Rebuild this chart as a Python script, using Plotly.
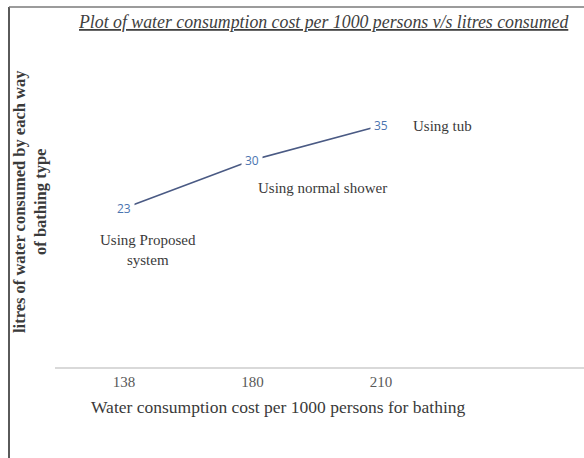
import plotly.graph_objects as go

# Cost per 1000 persons (category labels) and litres consumed per bathing type
cost_labels = ["138", "180", "210"]
litres = [23, 30, 35]
bath_types = ["Using Proposed<br>system", "Using normal shower", "Using tub"]

positions = list(range(len(cost_labels)))

W, H = 584, 458
L, R, T, B = 55, 0, 91, 91
pw, ph = W - L - R, H - T - B


def px(x):
    return (x - L) / pw


def py(y):
    return (H - B - y) / ph


serif = "Liberation Serif, Times New Roman, serif"

fig = go.Figure()
fig.add_trace(go.Scatter(
    x=positions, y=litres, mode="lines",
    line=dict(color="#4a5a84", width=1.6),
    hoverinfo="skip", showlegend=False,
))

annotations = []
# value labels on the points, white-backed so the line stops short of them
for xi, v in zip(positions, litres):
    annotations.append(dict(
        x=xi, y=v, xref="x", yref="y", text=str(v), showarrow=False,
        font=dict(family="Open Sans, sans-serif", size=12, color="#4a74b0"),
        bgcolor="white", borderpad=3,
    ))

# bathing type captions next to each point
caption_offsets = [(24, -42), (70, -28), (62, 0)]
for xi, v, name, (dx, dy) in zip(positions, litres, bath_types, caption_offsets):
    annotations.append(dict(
        x=xi, y=v, xref="x", yref="y", text=name, showarrow=False,
        xshift=dx, yshift=dy,
        font=dict(family=serif, size=15, color="#3a3a3a"),
    ))

annotations += [
    dict(x=px(323), y=py(22), xref="paper", yref="paper", showarrow=False,
         xanchor="center", yanchor="middle",
         text="<i><u>Plot of water consumption cost per 1000 persons v/s litres consumed</u></i>",
         font=dict(family=serif, size=17.8, color="#404040")),
    dict(x=px(278), y=py(407), xref="paper", yref="paper", showarrow=False,
         xanchor="center", yanchor="middle",
         text="Water consumption cost per 1000 persons for bathing",
         font=dict(family=serif, size=17.5, color="#3a3a3a")),
    dict(x=px(30), y=py(202), xref="paper", yref="paper", showarrow=False,
         xanchor="center", yanchor="middle", textangle=-90,
         text="<b>litres of water consumed by each way<br>of bathing type</b>",
         font=dict(family=serif, size=16.5, color="#3a3a3a")),
]

shapes = [
    dict(type="line", xref="paper", yref="paper",
         x0=px(9), x1=px(9), y0=py(7), y1=py(H), line=dict(color="#5a5a5a", width=2)),
    dict(type="line", xref="paper", yref="paper",
         x0=px(9), x1=px(W), y0=py(7), y1=py(7), line=dict(color="#7a7a7a", width=1.5)),
]

fig.update_layout(
    width=W, height=H,
    margin=dict(l=L, r=R, t=T, b=B),
    paper_bgcolor="white", plot_bgcolor="white",
    annotations=annotations, shapes=shapes,
    xaxis=dict(
        range=[-0.537, 3.58], tickvals=positions, ticktext=cost_labels,
        showline=True, linecolor="#d9d9d9", linewidth=2,
        showgrid=False, zeroline=False, ticks="",
        tickfont=dict(family=serif, size=15, color="#595959"),
    ),
    yaxis=dict(range=[0, 40], visible=False),
    showlegend=False,
)

fig.write_html("out.html")
